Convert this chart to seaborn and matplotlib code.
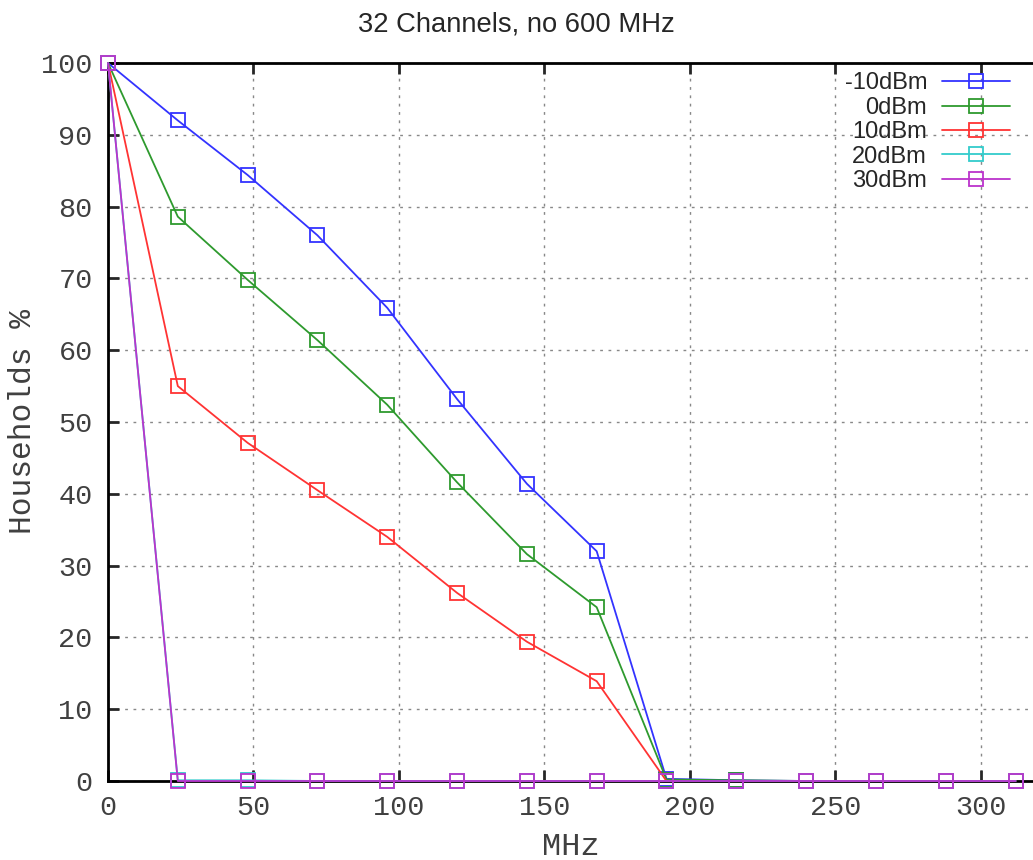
import numpy as np
import pandas as pd
import matplotlib
matplotlib.use("Agg")
import matplotlib.pyplot as plt
import seaborn as sns

mhz = [0, 24, 48, 72, 96, 120, 144, 168, 192, 216, 240, 264, 288, 312]
m10 = [100, 92.0, 84.4, 76.0, 65.9, 53.2, 41.4, 32.0, 0.3, 0.1, 0, 0, 0, 0]
p0 = [100, 78.6, 69.8, 61.4, 52.4, 41.6, 31.6, 24.2, 0.2, 0.1, 0, 0, 0, 0]
p10 = [100, 55.0, 47.1, 40.5, 34.0, 26.2, 19.4, 13.9, 0, 0, 0, 0, 0, 0]
p20 = [100, 0.1, 0.1, 0, 0, 0, 0, 0, 0, 0, 0, 0, 0, 0]
p30 = [100, 0, 0, 0, 0, 0, 0, 0, 0, 0, 0, 0, 0, 0]
labels = ["-10dBm", "0dBm", "10dBm", "20dBm", "30dBm"]
colors = ["#3333ff", "#2e9a2e", "#ff3333", "#33cccc", "#bb33cc"]
series = [m10, p0, p10, p20, p30]

sns.set_style("white")
fig = plt.figure(figsize=(10.33, 8.6), dpi=100)
ax = fig.add_axes([108/1033, 1 - 781/860, 1 - 108/1033, (781 - 63)/860])

for lab, col, ys in zip(labels, colors, series):
    df = pd.DataFrame({"MHz": mhz, "val": ys})
    sns.lineplot(data=df, x="MHz", y="val", ax=ax, color=col, label=lab,
                 marker="s", markersize=9.5, markerfacecolor="none",
                 markeredgecolor=col, markeredgewidth=1.3, linewidth=1.3,
                 clip_on=False, zorder=3)

ax.set_xlim(0, 318)
ax.set_ylim(0, 100)
ax.set_xticks([0, 50, 100, 150, 200, 250, 300])
ax.set_yticks(range(0, 101, 10))
ax.grid(True, color="#888888", linestyle=(0, (2, 4)), linewidth=1)
for s in ["left", "bottom", "top"]:
    ax.spines[s].set_visible(True)
    ax.spines[s].set_color("black")
    ax.spines[s].set_linewidth(2)
ax.spines["right"].set_visible(False)
ax.tick_params(direction="in", length=8, width=2, top=True, right=False,
               bottom=True, left=True, labelsize=20.5, labelcolor="#404040")
ax.tick_params(axis="y", pad=11)
ax.tick_params(axis="x", pad=10)
for t in ax.get_xticklabels() + ax.get_yticklabels():
    t.set_family("Liberation Mono")
ax.set_xlabel("MHz", family="Liberation Mono", fontsize=23, color="#404040")
ax.xaxis.set_label_coords(0.5, (781 - 847) / 718)
ax.xaxis.label.set_va("center")
ax.set_ylabel("Households %", family="Liberation Mono", fontsize=22.5, color="#404040")
ax.yaxis.set_label_coords((23 - 108) / 925, 0.5)
ax.yaxis.label.set_va("center")
fig.suptitle("32 Channels, no 600 MHz", family="Liberation Sans", fontsize=19.7, y=0.987)

leg = ax.legend(loc="upper right", frameon=False, markerfirst=False,
                prop={"family": "Liberation Sans", "size": 17},
                handlelength=2.85, labelspacing=0.1, borderaxespad=0.0,
                handletextpad=0.65, bbox_to_anchor=(0.985, 1.0))
fig.savefig("out.png", dpi=100)
